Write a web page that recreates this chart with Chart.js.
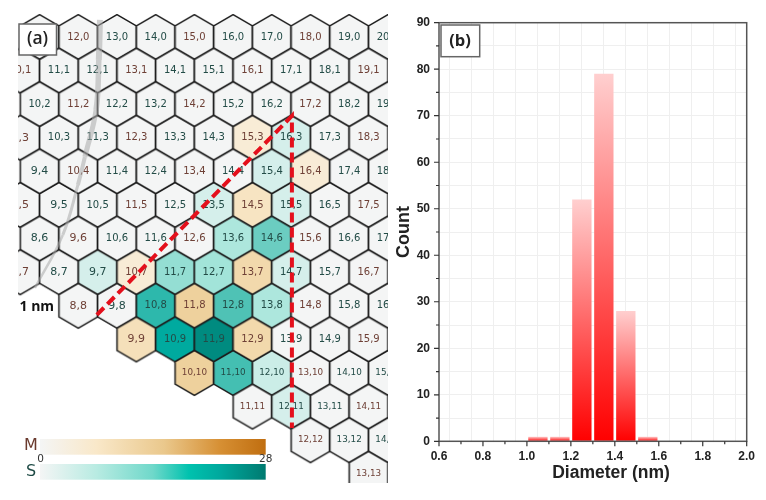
<!DOCTYPE html>
<html>
<head>
<meta charset="utf-8">
<style>
  html, body { margin: 0; padding: 0; background: #fff; }
  canvas { position: absolute; display: block; }
  #mapChart { left: 18px; top: 14px; }
  #histChart { left: 390px; top: 0; }
</style>
<script src="https://cdn.jsdelivr.net/npm/chart.js@4/dist/chart.umd.min.js"></script>
</head>
<body>
<canvas id="mapChart" width="370" height="469"></canvas>
<canvas id="histChart" width="376" height="500"></canvas>
<script>
// (a) chirality map, one list per row of the lattice
const row0 = ['11,0','12,0','13,0','14,0','15,0','16,0','17,0','18,0','19,0','20,0'];
const row1 = ['10,1','11,1','12,1','13,1','14,1','15,1','16,1','17,1','18,1','19,1'];
const row2 = ['10,2','11,2','12,2','13,2','14,2','15,2','16,2','17,2','18,2','19,2'];
const row3 = ['9,3','10,3','11,3','12,3','13,3','14,3','15,3','16,3','17,3','18,3'];
const row4 = ['9,4','10,4','11,4','12,4','13,4','14,4','15,4','16,4','17,4','18,4'];
const row5 = ['8,5','9,5','10,5','11,5','12,5','13,5','14,5','15,5','16,5','17,5'];
const row6 = ['8,6','9,6','10,6','11,6','12,6','13,6','14,6','15,6','16,6','17,6'];
const row7 = ['7,7','8,7','9,7','10,7','11,7','12,7','13,7','14,7','15,7','16,7'];
const row8 = ['8,8','9,8','10,8','11,8','12,8','13,8','14,8','15,8','16,8'];
const row9 = ['9,9','10,9','11,9','12,9','13,9','14,9','15,9'];
const row10 = ['10,10','11,10','12,10','13,10','14,10','15,10'];
const row11 = ['11,11','12,11','13,11','14,11'];
const row12 = ['12,12','13,12','14,12'];
const row13 = ['13,13'];

// tubes actually counted, everything else is 0
const countedTubes = ['15,3','16,3','15,4','16,4','13,5','14,5','15,5','13,6','14,6',
  '9,7','10,7','11,7','12,7','13,7','14,7','10,8','11,8','12,8','13,8',
  '9,9','10,9','11,9','12,9','10,10','11,10','12,10','12,11'];
const tubeCounts = [5,3,3,5,3,8,3,7,12,
  3,5,9,8,11,3,17,13,14,7,
  9,21,26,11,13,15,4,3];

// lattice path of the triangle and of the grey tube, as (n + m/2, m)
const triangleU = [12.48, 17.52, 17.52];
const triangleM = [8.27, 2.35, 11.64];
const tubeU = [12.56, 12.53, 12.46, 12.17, 11.99, 11.6, 10.88];
const tubeM = [-0.51, 0.68, 2.17, 3.57, 4.4, 5.89, 7.47];

// (b) histogram
const binCenters = [1.05, 1.15, 1.25, 1.35, 1.45, 1.55];
const binCounts = [1, 1, 52, 79, 28, 1];

const metalRamp = [[0, '#f4f5f5'], [0.25, '#f9e8c9'], [0.55, '#eac88c'], [0.8, '#d68f33'], [1, '#c06e10']];
const semiRamp = [[0, '#f4f5f5'], [0.25, '#b8ebe2'], [0.5, '#6fd8ca'], [0.66, '#00c2ae'], [0.8, '#00a89d'], [1, '#007a70']];
// the cells print a little duller than the bar
const semiCellRamp = [[0, '#f4f5f5'], [0.28, '#a4e5da'], [0.5, '#4fc2b5'], [0.75, '#00aa9f'], [1, '#007f74']];

function hexToRgb(h) {
  return [1, 3, 5].map((i) => parseInt(h.slice(i, i + 2), 16));
}

function rampColor(ramp, t) {
  for (let i = 1; i < ramp.length; i++) {
    if (t <= ramp[i][0]) {
      const f = (t - ramp[i - 1][0]) / (ramp[i][0] - ramp[i - 1][0]);
      const a = hexToRgb(ramp[i - 1][1]), b = hexToRgb(ramp[i][1]);
      return `rgb(${a.map((v, k) => Math.round(v + (b[k] - v) * f)).join(',')})`;
    }
  }
  return ramp[ramp.length - 1][1];
}

const hexCache = {};
function hexImage(color) {
  if (hexCache[color]) return hexCache[color];
  const c = document.createElement('canvas');
  c.width = 50; c.height = 50;
  const g = c.getContext('2d');
  const r = 38.7 / Math.sqrt(3);
  g.beginPath();
  for (let i = 0; i < 6; i++) {
    const a = Math.PI / 3 * i - Math.PI / 2;
    g.lineTo(25 + r * Math.cos(a), 25 + r * Math.sin(a));
  }
  g.closePath();
  g.fillStyle = color;
  g.fill();
  g.strokeStyle = '#1c1c1c';
  g.lineWidth = 1.5;
  g.stroke();
  hexCache[color] = c;
  return c;
}

const allTubes = [row0, row1, row2, row3, row4, row5, row6, row7, row8, row9, row10, row11, row12, row13].flat();

function isMetal(label) {
  const [n, m] = label.split(',').map(Number);
  return (n - m) % 3 === 0;
}

function tubeColor(label) {
  const i = countedTubes.indexOf(label);
  const count = i < 0 ? 0 : tubeCounts[i];
  return rampColor(isMetal(label) ? metalRamp : semiCellRamp, count / 28);
}

const tubePoints = allTubes.map((label) => {
  const [n, m] = label.split(',').map(Number);
  return { x: n + m / 2, y: m };
});

const tubeLabels = {
  id: 'tubeLabels',
  afterDatasetDraw(chart, args) {
    if (args.index !== 2) return;
    const ctx = chart.ctx;
    ctx.save();
    ctx.textAlign = 'center';
    ctx.textBaseline = 'middle';
    args.meta.data.forEach((pt, i) => {
      const label = allTubes[i];
      const size = label.length === 3 ? 11 : label.length === 4 ? 10 : 8.8;
      ctx.font = `${size}px "DejaVu Sans"`;
      ctx.fillStyle = isMetal(label) ? '#6e4036' : '#234c47';
      ctx.fillText(label, pt.x, pt.y);
    });
    ctx.restore();
  }
};

function drawBar(ctx, ramp, x, y, w, h) {
  const g = ctx.createLinearGradient(x, 0, x + w, 0);
  ramp.forEach(([s, c]) => g.addColorStop(s, c));
  ctx.fillStyle = g;
  ctx.fillRect(x, y, w, h);
}

const mapDecor = {
  id: 'mapDecor',
  afterDraw(chart) {
    const ctx = chart.ctx;
    ctx.save();
    // panel tag
    ctx.fillStyle = '#fff';
    ctx.strokeStyle = '#666';
    ctx.lineWidth = 1.5;
    ctx.fillRect(1, 10, 37.5, 31);
    ctx.strokeRect(1, 10, 37.5, 31);
    ctx.fillStyle = '#222';
    ctx.textAlign = 'center';
    ctx.textBaseline = 'middle';
    ctx.font = '600 17.5px "Open Sans"';
    ctx.fillText('(a)', 19.5, 25);
    // scale bar text
    ctx.textAlign = 'left';
    ctx.fillStyle = '#111';
    ctx.font = 'bold 14px "Open Sans"';
    ctx.fillText('1 nm', 1.5, 293);
    // colour bars
    drawBar(ctx, metalRamp, 22, 425, 225.7, 15.7);
    drawBar(ctx, semiRamp, 22, 450, 225.7, 15.7);
    ctx.textAlign = 'center';
    ctx.font = '10.5px "DejaVu Sans"';
    ctx.fillStyle = '#333';
    ctx.fillText('0', 22.7, 445.5);
    ctx.fillText('28', 247.7, 445.5);
    ctx.font = '16px "DejaVu Sans"';
    ctx.fillStyle = '#6a3a2e';
    ctx.fillText('M', 13, 432);
    ctx.fillStyle = '#1e4a45';
    ctx.fillText('S', 13, 457.5);
    ctx.restore();
  }
};

const curveWidths = [6, 5.5, 5, 4, 3, 2.5];

new Chart(document.getElementById('mapChart'), {
  type: 'scatter',
  data: {
    datasets: [
      {
        data: triangleU.map((u, i) => ({ x: u, y: triangleM[i] })),
        showLine: true,
        pointRadius: 0,
        borderColor: '#e4101c',
        borderWidth: 4,
        borderDash: [10, 5],
        order: 1
      },
      {
        data: tubeU.map((u, i) => ({ x: u, y: tubeM[i] })),
        showLine: true,
        pointRadius: 0,
        tension: 0.4,
        borderColor: 'rgba(170,170,170,0.55)',
        segment: { borderWidth: (c) => curveWidths[c.p0DataIndex] },
        order: 2
      },
      {
        data: tubePoints,
        pointStyle: allTubes.map((l) => hexImage(tubeColor(l))),
        pointRadius: 22,
        order: 3
      }
    ]
  },
  options: {
    responsive: false,
    animation: false,
    events: [],
    layout: { padding: 0, autoPadding: false },
    plugins: { legend: { display: false }, tooltip: { enabled: false } },
    scales: {
      x: { display: false, min: 10.442, max: 20.003 },
      y: { display: false, reverse: true, min: -0.6845, max: 13.274 }
    }
  },
  plugins: [tubeLabels, mapDecor]
});

const histDecor = {
  id: 'histDecor',
  afterDraw(chart) {
    const ctx = chart.ctx, a = chart.chartArea;
    ctx.save();
    ctx.strokeStyle = '#555';
    ctx.lineWidth = 1.5;
    ctx.strokeRect(a.left, a.top, a.right - a.left, a.bottom - a.top);
    // outward ticks, long on labelled values
    ctx.strokeStyle = '#333';
    ctx.lineWidth = 1.2;
    ctx.beginPath();
    chart.scales.x.ticks.forEach((t, i) => {
      const px = chart.scales.x.getPixelForTick(i);
      ctx.moveTo(px, a.bottom);
      ctx.lineTo(px, a.bottom + (t.label ? 5 : 3));
    });
    chart.scales.y.ticks.forEach((t, i) => {
      const py = chart.scales.y.getPixelForTick(i);
      ctx.moveTo(a.left, py);
      ctx.lineTo(a.left - (t.label !== '' ? 5 : 3), py);
    });
    ctx.stroke();
    // panel tag
    ctx.fillStyle = '#fff';
    ctx.strokeStyle = '#666';
    ctx.lineWidth = 1.5;
    ctx.fillRect(51, 25, 38.7, 31.7);
    ctx.strokeRect(51, 25, 38.7, 31.7);
    ctx.fillStyle = '#222';
    ctx.textAlign = 'center';
    ctx.textBaseline = 'middle';
    ctx.font = 'bold 16.5px "Open Sans"';
    ctx.fillText('(b)', 70, 41);
    // x title sits right of the axis centre in the original
    ctx.font = 'bold 17.5px "Liberation Sans"';
    ctx.fillStyle = '#222';
    ctx.fillText('Diameter (nm)', 221, 473);
    ctx.restore();
  }
};

const gridStyle = { color: '#efefef', lineWidth: 1, drawTicks: false };

new Chart(document.getElementById('histChart'), {
  type: 'bar',
  data: {
    datasets: [{
      data: binCenters.map((c, i) => ({ x: c, y: binCounts[i] })),
      barPercentage: 0.88,
      categoryPercentage: 1,
      borderWidth: 0,
      backgroundColor(ctx) {
        const { chart, parsed } = ctx;
        if (!chart.chartArea || !parsed) return '#ff4040';
        const yScale = chart.scales.y;
        const g = chart.ctx.createLinearGradient(0, yScale.getPixelForValue(parsed.y), 0, yScale.getPixelForValue(0));
        g.addColorStop(0, '#ffcfcf');
        g.addColorStop(1, '#ff0000');
        return g;
      }
    }]
  },
  options: {
    responsive: false,
    animation: false,
    events: [],
    layout: { padding: { top: 22.7, right: 19.3, left: 0, bottom: 0 } },
    plugins: { legend: { display: false }, tooltip: { enabled: false } },
    scales: {
      x: {
        type: 'linear',
        offset: false,
        min: 0.6,
        max: 2.0,
        afterFit(s) { s.height = 58.7; },
        grid: gridStyle,
        border: { display: false },
        ticks: {
          stepSize: 0.1,
          autoSkip: false,
          maxRotation: 0,
          padding: 8,
          color: '#222',
          font: { family: 'Liberation Sans', size: 12, weight: 'bold' },
          callback: (v) => (Math.round(v * 10) % 2 === 0 ? v.toFixed(1) : '')
        }
      },
      y: {
        min: 0,
        max: 90,
        afterFit(s) { s.width = 49; },
        grid: gridStyle,
        border: { display: false },
        title: {
          display: true,
          text: 'Count',
          color: '#222',
          padding: { top: 3, bottom: 0 },
          font: { family: 'Liberation Sans', size: 18, weight: 'bold' }
        },
        ticks: {
          stepSize: 5,
          autoSkip: false,
          padding: 9,
          color: '#222',
          font: { family: 'Liberation Sans', size: 12, weight: 'bold' },
          callback: (v) => (v % 10 === 0 ? v : '')
        }
      }
    }
  },
  plugins: [histDecor]
});
</script>
</body>
</html>
